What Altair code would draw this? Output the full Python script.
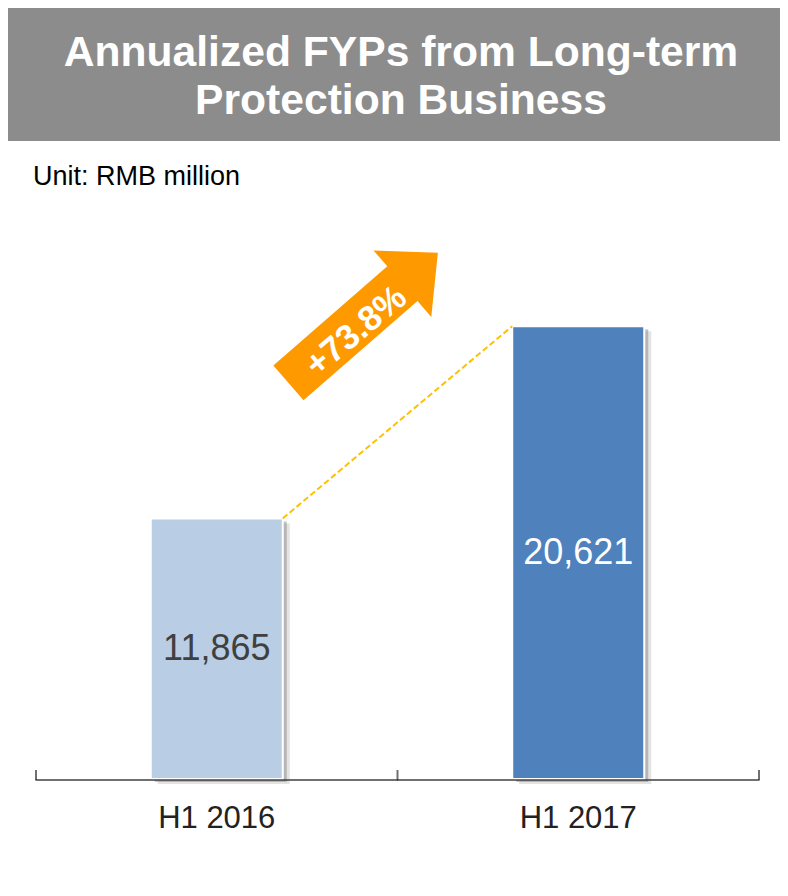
import altair as alt
import pandas as pd

# ---------------- data ----------------
categories = ["H1 2016", "H1 2017"]
values = [11865, 20621]
growth_label = "+73.8%"
title_lines = ["Annualized FYPs from Long-term", "Protection Business"]
unit_label = "Unit: RMB million"

# ---------------- styles ----------------
bar_colors = ["#B9CDE5", "#4F81BD"]
label_colors = ["#404040", "#FFFFFF"]
FONT = "Liberation Sans"
ARROW_PATH = "M -0.99 -0.23 L 0.52 -0.23 L 0.52 -0.44 L 0.99 0 L 0.52 0.44 L 0.52 0.23 L -0.99 0.23 Z"
ARROW_Y = 21000      # annotation position in data units
TEXT_Y = 20400
Y_MAX = 25500

df = pd.DataFrame({"cat": categories, "value": values})
link = pd.DataFrame({"from": [categories[0]], "to": [categories[1]],
                     "y1": [values[0]], "y2": [values[1]]})
arrow = pd.DataFrame({"cat": [categories[0]], "ay": [ARROW_Y], "ty": [TEXT_Y],
                      "label": [growth_label]})
ticks_a = pd.DataFrame({"cat": categories})
ticks_b = pd.DataFrame({"cat": [categories[-1]]})

W, H = 772, 560
X_RANGE = [28, 751]
STEP = (X_RANGE[1] - X_RANGE[0]) / len(categories)

xscale = alt.Scale(domain=categories, paddingInner=0, paddingOuter=0, range=X_RANGE)
yscale = alt.Scale(domain=[0, Y_MAX], nice=False)

xaxis = alt.Axis(title=None, ticks=False, domain=False,
                 labelFontSize=31, labelColor="#222222", labelFont=FONT,
                 labelPadding=24, labelAngle=0, grid=False)

base = alt.Chart(df)

shadow1 = base.mark_bar(width=132, color="#7F7F7F", opacity=0.22, xOffset=7, yOffset=5).encode(
    x=alt.X("cat:N", scale=xscale, axis=xaxis, sort=categories),
    y=alt.Y("value:Q", scale=yscale, axis=None),
)
shadow2 = base.mark_bar(width=132, color="#7F7F7F", opacity=0.45, xOffset=4, yOffset=3).encode(
    x=alt.X("cat:N", sort=categories), y="value:Q",
)
bars = base.mark_bar(width=132, stroke="white", strokeWidth=2).encode(
    x=alt.X("cat:N", sort=categories),
    y="value:Q",
    color=alt.Color("cat:N", scale=alt.Scale(domain=categories, range=bar_colors), legend=None),
)
labels = base.transform_calculate(mid="datum.value / 2").mark_text(
    font=FONT, fontSize=36, baseline="middle", align="center"
).encode(
    x=alt.X("cat:N", sort=categories),
    y="mid:Q",
    text=alt.Text("value:Q", format=","),
    fill=alt.Fill("cat:N", scale=alt.Scale(domain=categories, range=label_colors), legend=None),
)
dash = alt.Chart(link).mark_rule(color="#FFC000", strokeDash=[6, 3], strokeWidth=2,
                                 xOffset=66, x2Offset=-66).encode(
    x="from:N", x2="to:N", y="y1:Q", y2="y2:Q",
)
# axis line (one segment per band) and upward ticks at band boundaries
domain_line = alt.Chart(ticks_a).mark_tick(orient="horizontal", size=STEP + 1, thickness=2,
                                           color="#333333", yOffset=1).encode(
    x=alt.X("cat:N"), y=alt.datum(0),
)
ticks1 = alt.Chart(ticks_a).mark_tick(orient="vertical", size=10, thickness=2,
                                      color="#333333", yOffset=-4).encode(
    x=alt.X("cat:N", bandPosition=0), y=alt.datum(0),
)
ticks2 = alt.Chart(ticks_b).mark_tick(orient="vertical", size=10, thickness=2,
                                      color="#333333", yOffset=-4).encode(
    x=alt.X("cat:N", bandPosition=1), y=alt.datum(0),
)
arrow_mark = alt.Chart(arrow).mark_point(shape=ARROW_PATH, filled=True, color="#FF9900",
                                         opacity=1, size=40000, angle=319, strokeWidth=0).encode(
    x=alt.X("cat:N", bandPosition=0.905), y="ay:Q",
)
arrow_text = alt.Chart(arrow).mark_text(font=FONT, fontSize=35, fontWeight="bold", color="white",
                                        angle=320, align="center", baseline="middle").encode(
    x=alt.X("cat:N", bandPosition=0.885), y="ty:Q", text="label:N",
)

main = alt.layer(shadow1, shadow2, bars, dash, labels, domain_line, ticks1, ticks2,
                 arrow_mark, arrow_text).resolve_scale(
    color="independent", fill="independent"
).properties(
    width=W, height=H,
    title=alt.TitleParams(unit_label, anchor="start", font=FONT, fontSize=27,
                          fontWeight="normal", color="#000000", offset=28, dx=25),
)

header = alt.Chart(pd.DataFrame({"t": [0]})).mark_text(
    font=FONT, fontSize=42.6, fontWeight="bold", color="white", lineHeight=48,
    align="center", baseline="middle",
).encode(
    text=alt.value(title_lines), x=alt.value(W / 2 + 7), y=alt.value(45),
).properties(width=W, height=133, view=alt.ViewBackground(fill="#8C8C8C", stroke=None))

chart = alt.vconcat(header, main, spacing=22).properties(
    padding={"left": 0, "top": 0, "right": 0, "bottom": 0}, background="white"
).configure_view(stroke=None)

chart.save("out.html", embed_options={"renderer": "svg", "actions": False})
